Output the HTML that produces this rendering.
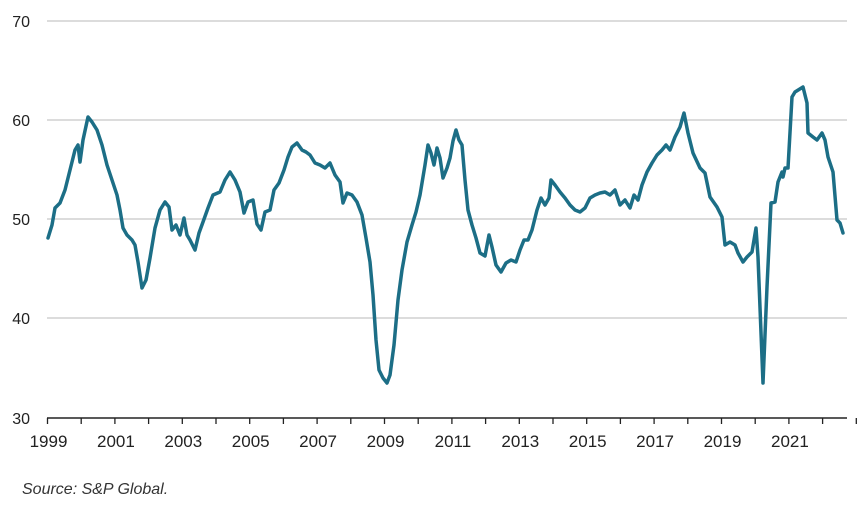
<!DOCTYPE html>
<html><head><meta charset="utf-8"><style>
body{margin:0;background:#fff;}
svg{display:block;font-family:"Liberation Sans",Arial,sans-serif;}
</style></head><body>
<svg width="866" height="512" viewBox="0 0 866 512">
<g stroke="#c8c8c8" stroke-width="1.3">
<line x1="47" y1="21" x2="847" y2="21"/>
<line x1="47" y1="120" x2="847" y2="120"/>
<line x1="47" y1="219" x2="847" y2="219"/>
<line x1="47" y1="318" x2="847" y2="318"/>
</g>
<g font-size="16" fill="#222" text-anchor="end">
<text x="30" y="27">70</text><text x="30" y="126">60</text><text x="30" y="225">50</text><text x="30" y="324">40</text><text x="30" y="424">30</text>
</g>
<line x1="47" y1="418" x2="847" y2="418" stroke="#222" stroke-width="1.5"/>
<g stroke="#222" stroke-width="1.3" id="ticks"></g>
<g font-size="17" fill="#222" text-anchor="middle" id="xl"></g>
<polyline fill="none" stroke="#1c6e86" stroke-width="3.5" stroke-linejoin="round" stroke-linecap="round" points="48,238 52,225 55,208 60,203 65,190 70,170 75,150 78,145 80,162 83,140 88,117 92,122 97,130 102,145 107,165 112,180 117,195 120,210 123,228 127,235 132,240 135,245 138,262 142,288 146,280 150,258 155,228 160,210 165,202 169,207 172,230 176,225 180,235 184,218 187,235 190,240 195,250 199,233 203,222 208,208 213,195 220,192 225,180 230,172 235,180 240,192 244,213 248,202 253,200 257,224 261,230 265,212 270,210 274,190 279,183 284,170 288,157 292,147 297,143 302,150 306,152 310,155 315,163 320,165 325,168 330,163 335,175 340,182 343,203 347,193 352,195 357,202 362,215 366,238 370,262 373,295 376,340 379,370 383,378 387,383 390,375 394,345 398,300 402,270 407,242 412,225 416,212 420,195 425,165 428,145 431,153 434,165 437,148 440,158 443,178 447,168 450,158 453,141 456,130 459,140 462,145 465,180 468,210 472,225 476,238 480,253 485,256 489,235 492,247 496,265 501,272 506,263 511,260 516,262 520,250 524,240 528,240 532,230 537,210 541,198 545,205 549,198 551,180 555,185 560,192 565,198 570,205 575,210 580,212 585,208 590,198 595,195 600,193 605,192 610,195 615,190 620,205 625,200 630,208 634,195 638,200 642,185 647,172 652,163 657,155 662,150 666,145 670,150 675,137 680,127 684,113 688,133 693,153 700,168 705,173 710,197 717,207 722,217 725,245 730,242 735,245 738,253 743,262 747,257 752,252 756,228 758,257 763,383 767,287 771,203 775,202 778,182 782,172 783,177 785,168 788,168 792,97 795,92 803,87 807,103 808,133 813,137 817,140 822,133 825,140 828,157 833,172 837,220 840,223 843,233"/>
<text x="22" y="494" font-size="16" font-style="italic" fill="#333">Source:  S&amp;P Global.</text>
</svg>
<script>
var t=document.getElementById('ticks'),l=document.getElementById('xl'),ns='http://www.w3.org/2000/svg';
for(var i=0;i<=24;i++){var x=47.5+i*33.7;var e=document.createElementNS(ns,'line');e.setAttribute('x1',x);e.setAttribute('x2',x);e.setAttribute('y1',418);e.setAttribute('y2',424);t.appendChild(e);
if(i%2==0&&i<=22){var s=document.createElementNS(ns,'text');s.setAttribute('x',x+1);s.setAttribute('y',447);s.textContent=1999+i;l.appendChild(s);}}
</script>
</body></html>
